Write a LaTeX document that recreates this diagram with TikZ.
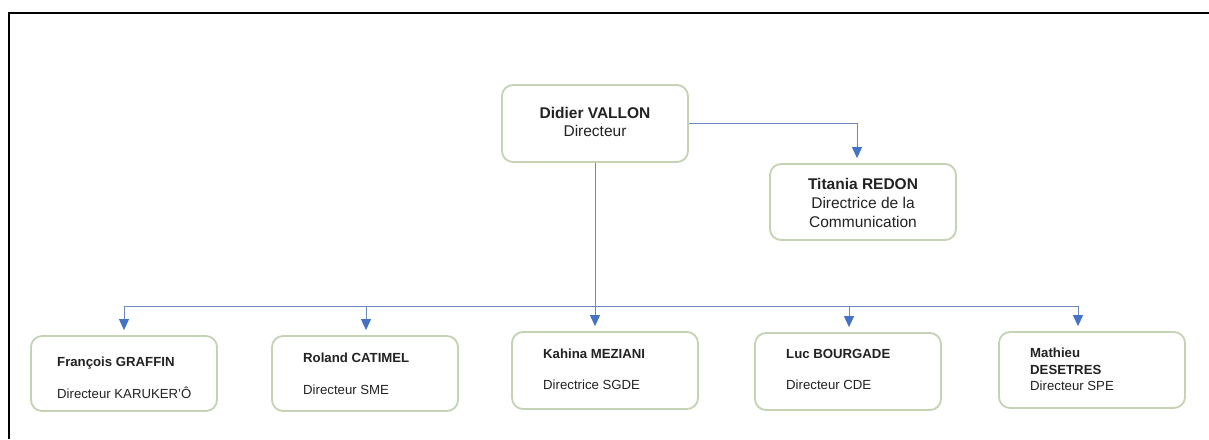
\documentclass[tikz,border=0pt]{standalone}
\usepackage{fontspec}
\setmainfont{Liberation Sans}
\usetikzlibrary{arrows.meta}
\definecolor{boxgreen}{HTML}{C3D3B3}
\definecolor{linkblue}{HTML}{6A88BC}
\definecolor{tipblue}{HTML}{4472C4}
\definecolor{txt}{HTML}{222222}
\begin{document}
\begin{tikzpicture}[x=1pt,y=-1pt,
  card/.style={draw=boxgreen, line width=1.8pt, rounded corners=11pt, fill=white,
    minimum width=186pt, inner sep=0pt},
  link/.style={draw=linkblue, line width=1pt},
  arr/.style={link, shorten >=5pt, -{Triangle[width=10pt,length=11pt,color=tipblue]}},
  bigname/.style={font=\fontsize{15.5}{17}\selectfont\bfseries, text=txt, inner sep=0pt},
  bigrole/.style={font=\fontsize{15.5}{17}\selectfont, text=txt, inner sep=0pt},
  smallname/.style={font=\fontsize{13.2}{15}\selectfont\bfseries, text=txt, inner sep=0pt, anchor=west},
  smallrole/.style={font=\fontsize{13.2}{15}\selectfont, text=txt, inner sep=0pt, anchor=west}
]
\useasboundingbox (0,0) rectangle (1209,439);
\fill[white] (0,0) rectangle (1209,439);
% frame
\draw[black, line width=2pt] (8.5,439) -- (8.5,13) -- (1209,13);

% boxes
\node[card, minimum height=77pt] (didier) at (595,123.5) {};
\node[card, minimum height=76pt] (titania) at (863,202) {};
\node[card, minimum height=75pt] (fr) at (124,373.5) {};
\node[card, minimum height=75pt] (ro) at (365,373.5) {};
\node[card, minimum height=77pt] (ka) at (605,370.5) {};
\node[card, minimum height=77pt] (lu) at (848,371.5) {};
\node[card, minimum height=76pt] (ma) at (1092,370) {};

% texts
\node[bigname] (didiern) at (595,113) {Didier VALLON};
\node[bigrole] (didierr) at (595,131) {Directeur};
\node[bigname] (titn) at (863,184) {Titania REDON};
\node[bigrole] (titr1) at (863,203) {Directrice de la};
\node[bigrole] (titr2) at (863,222) {Communication};

\node[smallname] (frn) at (57,363) {François GRAFFIN};
\node[smallrole] (frr) at (57,393) {Directeur KARUKER'Ô};
\node[smallname] (ron) at (303,358) {Roland CATIMEL};
\node[smallrole] (ror) at (303,390) {Directeur SME};
\node[smallname] (kan) at (543,354) {Kahina MEZIANI};
\node[smallrole] (kar) at (543,385) {Directrice SGDE};
\node[smallname] (lun) at (786,354) {Luc BOURGADE};
\node[smallrole] (lur) at (786,385) {Directeur CDE};
\node[smallname] (man1) at (1030,353) {Mathieu};
\node[smallname] (man2) at (1030,370) {DESETRES};
\node[smallrole] (mar) at (1030,386) {Directeur SPE};

% connectors
\coordinate (tturn) at (857,123);
\draw[link] (didier.east |- tturn) -- (tturn);
\draw[arr] (tturn) -- (tturn |- titania.north);

\coordinate (j1) at (124,306);
\coordinate (j2) at (366,306);
\coordinate (j3) at (595,306);
\coordinate (j4) at (849,306);
\coordinate (j5) at (1078,306);
\draw[link] (didier.south) -- (j3);
\draw[link] (j1) -- (j5);
\draw[arr] (j1) -- (j1 |- fr.north);
\draw[arr] (j2) -- (j2 |- ro.north);
\draw[arr] (j3) -- (j3 |- ka.north);
\draw[arr] (j4) -- (j4 |- lu.north);
\draw[arr] (j5) -- (j5 |- ma.north);
\end{tikzpicture}
\end{document}
